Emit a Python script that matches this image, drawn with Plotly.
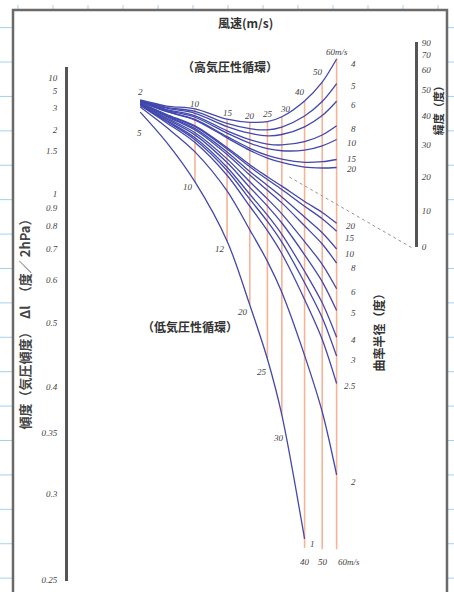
import numpy as np
import plotly.graph_objects as go

W, H = 454, 592

# ---------------- data ----------------
# wind speed (m/s) grid of the nomogram
wind = [5, 7, 10, 15, 20, 25, 30, 40, 50, 60]

# pressure-gradient scale value (1/Δl) on each curve, cyclonic curves (curvature radius in degrees)
cyc_r1 = [0.366, 0.603, 0.908, 1.366, 1.863, 2.283, 2.717, 3.68]
cyc_r2 = [0.327, 0.486, 0.675, 0.978, 1.280, 1.525, 1.765, 2.255, 2.693, 3.182]
cyc_r2_5 = [0.315, 0.450, 0.602, 0.856, 1.097, 1.287, 1.466, 1.821, 2.131, 2.473]
cyc_r3 = [0.312, 0.439, 0.580, 0.819, 1.042, 1.215, 1.376, 1.691, 1.963, 2.261]
cyc_r4 = [0.309, 0.431, 0.565, 0.794, 1.004, 1.166, 1.315, 1.602, 1.847, 2.115]
cyc_r5 = [0.305, 0.420, 0.543, 0.758, 0.950, 1.096, 1.227, 1.474, 1.682, 1.907]
cyc_r6 = [0.303, 0.412, 0.526, 0.729, 0.907, 1.040, 1.156, 1.371, 1.548, 1.738]
cyc_r8 = [0.299, 0.401, 0.505, 0.695, 0.855, 0.973, 1.071, 1.249, 1.390, 1.539]
cyc_r10 = [0.297, 0.396, 0.494, 0.675, 0.827, 0.935, 1.025, 1.181, 1.303, 1.429]
cyc_r15 = [0.295, 0.389, 0.479, 0.652, 0.791, 0.889, 0.967, 1.097, 1.194, 1.291]
cyc_r20 = [0.294, 0.385, 0.473, 0.641, 0.775, 0.868, 0.941, 1.060, 1.145, 1.229]

# anticyclonic curves
anti_r4 = [0.272, 0.319, 0.341, 0.421, 0.445, 0.440, 0.402, 0.279, 0.133, -0.046]
anti_r5 = [0.275, 0.329, 0.361, 0.454, 0.495, 0.504, 0.482, 0.396, 0.284, 0.145]
anti_r6 = [0.278, 0.336, 0.375, 0.478, 0.530, 0.550, 0.540, 0.480, 0.393, 0.282]
anti_r8 = [0.281, 0.346, 0.395, 0.511, 0.579, 0.614, 0.621, 0.596, 0.544, 0.472]
anti_r10 = [0.283, 0.352, 0.406, 0.529, 0.607, 0.650, 0.666, 0.661, 0.628, 0.579]
anti_r15 = [0.285, 0.360, 0.422, 0.556, 0.647, 0.702, 0.731, 0.756, 0.751, 0.734]
anti_r20 = [0.286, 0.363, 0.428, 0.566, 0.663, 0.723, 0.757, 0.794, 0.800, 0.796]

# isotachs (orange verticals): wind speed, top and bottom on the gradient scale
iso_wind = [10, 15, 20, 25, 30, 40, 50, 60]
iso_top = [0.34, 0.42, 0.445, 0.44, 0.40, 0.28, 0.13, -0.05]
iso_bottom = [0.91, 1.37, 1.86, 2.28, 2.72, 3.75, 3.76, 3.76]

# construction line towards latitude 0
guide_wind = [33, 156]
guide_grad = [0.87, 1.42]

# left scale: isobar spacing Δl (degrees per 2 hPa)
dl_ticks = [10, 5, 3, 2, 1.5, 1, 0.9, 0.8, 0.7, 0.6, 0.5, 0.4, 0.35, 0.3, 0.25]
dl_labels = ["10", "5", "3", "2", "1.5", "1", "0.9", "0.8", "0.7", "0.6", "0.5", "0.4", "0.35", "0.3", "0.25"]

# right scale: latitude (deg)
lat_ticks = [90, 70, 60, 50, 40, 30, 20, 10, 0]
lat_labels = ["90", "70", "60", "50", "40", "30", "20", "10", "0"]

anti_labels = ["4", "5", "6", "8", "10", "15", "20"]
cyc_labels = ["20", "15", "10", "8", "6", "5", "4", "3", "2.5", "2", "1"]
top_speed_labels = ["2", "10", "15", "20", "25", "30", "40", "50", "60m/s"]
low_speed_labels = ["5", "10", "12", "20", "25", "30"]
bottom_speed_labels = ["40", "50", "60m/s"]

# ---------------- figure ----------------
BLUE = "rgb(66,72,172)"
ORANGE = "rgba(244,160,122,0.8)"

fig = go.Figure()

for v, t, b in zip(iso_wind, iso_top, iso_bottom):
    fig.add_trace(go.Scatter(x=[v, v], y=[t, b], mode="lines",
                             line=dict(color=ORANGE, width=1.6),
                             hoverinfo="skip", showlegend=False))

fig.add_trace(go.Scatter(x=guide_wind, y=guide_grad, mode="lines",
                         line=dict(color="rgb(150,150,150)", width=1, dash="dot"),
                         hoverinfo="skip", showlegend=False))

curves = [cyc_r1, cyc_r2, cyc_r2_5, cyc_r3, cyc_r4, cyc_r5, cyc_r6, cyc_r8, cyc_r10,
          cyc_r15, cyc_r20, anti_r4, anti_r5, anti_r6, anti_r8, anti_r10, anti_r15, anti_r20]
for c in curves:
    fig.add_trace(go.Scatter(x=wind[:len(c)], y=c, mode="lines",
                             line=dict(color=BLUE, width=1.3, shape="spline", smoothing=0.9),
                             hoverinfo="skip", showlegend=False))

# invisible anchors so the two scale axes are drawn
fig.add_trace(go.Scatter(x=[10], y=[0.5], xaxis="x", yaxis="y2", mode="markers",
                         marker=dict(opacity=0), hoverinfo="skip", showlegend=False))
fig.add_trace(go.Scatter(x=[10], y=[1], xaxis="x", yaxis="y3", mode="markers",
                         marker=dict(opacity=0), hoverinfo="skip", showlegend=False))


def P(x, y):
    return dict(x=x / W, y=1 - y / H, xref="paper", yref="paper")


shapes = []
for gx in range(18, W, 35):
    shapes.append(dict(type="line", xref="paper", yref="paper", x0=gx / W, x1=gx / W, y0=0, y1=1,
                       line=dict(color="rgb(165,208,240)", width=1), layer="below"))
for gy in range(23, H, 35):
    shapes.append(dict(type="line", xref="paper", yref="paper", x0=0, x1=1, y0=1 - gy / H, y1=1 - gy / H,
                       line=dict(color="rgb(165,208,240)", width=1), layer="below"))
shapes.append(dict(type="rect", xref="paper", yref="paper", x0=13 / W, x1=447 / W, y0=-0.05, y1=1 - 5 / H,
                   fillcolor="white", line=dict(color="#6a6a6a", width=2.5), layer="below"))

NUM = dict(family="Liberation Serif", size=9, color="#444", style="italic")
CJK = dict(family="Noto Sans CJK JP", size=12, color="#333", weight="bold")

ann = []


def label(text, x, y, font=NUM, **kw):
    d = P(x, y)
    d.update(text=text, showarrow=False, font=font, xanchor=kw.pop("xanchor", "center"),
             yanchor="middle")
    d.update(kw)
    ann.append(d)


anti_pos = [(353, 60), (353, 82), (353, 102), (353, 126), (352, 140), (352, 157), (352, 167)]
for t, (x, y) in zip(anti_labels, anti_pos):
    label(t, x, y)
cyc_pos = [(351, 225), (350, 237), (350, 253), (353, 268), (353, 292), (353, 313), (353, 341),
           (353, 361), (350, 388), (353, 485), (312, 548)]
for t, (x, y) in zip(cyc_labels, cyc_pos):
    label(t, x, y)
top_pos = [(140, 88), (195, 101), (228, 110), (250, 113), (268, 111), (285, 106), (300, 88), (318, 68), (337, 48)]
for t, (x, y) in zip(top_speed_labels, top_pos):
    label(t, x, y)
low_pos = [(139, 130), (188, 185), (220, 248), (243, 312), (262, 373), (278, 440)]
for t, (x, y) in zip(low_speed_labels, low_pos):
    label(t, x, y)
bot_pos = [(305, 567), (323, 567), (349, 567)]
for t, (x, y) in zip(bottom_speed_labels, bot_pos):
    label(t, x, y)

label("風速(m/s)", 245, 18, font=dict(CJK, size=12))
label("（高気圧性循環）", 230, 63, font=CJK)
label("（低気圧性循環）", 190, 327, font=CJK)
label("曲率半径（度）", 378, 330, font=CJK, textangle=-90)
label("緯度（度）", 438, 105, font=dict(CJK, size=11), textangle=-90)
label("傾度（気圧傾度）　Δl　（度／ 2hPa）", 25, 322, font=dict(CJK, size=13, color="#444"), textangle=-90)

fig.update_layout(
    width=W, height=H, margin=dict(l=0, r=0, t=0, b=0),
    paper_bgcolor="white", plot_bgcolor="rgba(0,0,0,0)",
    showlegend=False, shapes=shapes, annotations=ann,
    xaxis=dict(type="log", range=[-0.0714, 2.4231], domain=[0, 1], visible=False, anchor="y"),
    yaxis=dict(range=[(H - 61) / 131, -61 / 131], domain=[0, 1], visible=False),
    yaxis2=dict(domain=[(H - 246) / H, (H - 38) / H], range=[0, 1], anchor="free",
                position=416 / W, side="right", showline=True, linecolor="#555", linewidth=3,
                showgrid=False, zeroline=False, ticks="",
                tickvals=list(np.sin(np.radians(lat_ticks))), ticktext=lat_labels,
                tickfont=NUM, ticklabelstandoff=2),
    yaxis3=dict(domain=[(H - 586) / H, (H - 63) / H], range=[(586 - 61) / 131, (63 - 61) / 131],
                anchor="free", position=66 / W, side="left", showline=True, linecolor="#555",
                linewidth=3, showgrid=False, zeroline=False, ticks="",
                tickvals=[1 / v for v in dl_ticks], ticktext=dl_labels,
                tickfont=NUM, ticklabelstandoff=6),
)

fig.write_html("out.html", config={"displayModeBar": False},
               post_script="document.body.style.margin='0';document.body.style.overflow='hidden';")
